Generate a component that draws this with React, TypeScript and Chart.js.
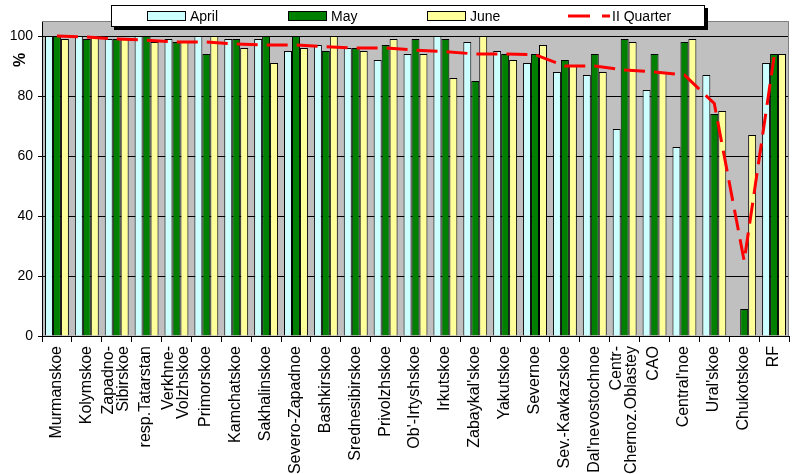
import React, { useEffect, useRef } from 'react';
import { Chart, registerables } from 'chart.js';

Chart.register(...registerables);

const FONT = "'Liberation Sans', Arial, sans-serif";

const categories: (string | string[])[] = [
  'Murmanskoe', 'Kolymskoe', ['Zapadno-', 'Sibirskoe'], 'resp.Tatarstan', ['Verkhne-', 'Volzhskoe'],
  'Primorskoe', 'Kamchatskoe', 'Sakhalinskoe', 'Severo-Zapadnoe', 'Bashkirskoe', 'Srednesibirskoe',
  'Privolzhskoe', "Ob'-Irtyshskoe", 'Irkutskoe', "Zabaykal'skoe", 'Yakutskoe', 'Severnoe',
  'Sev.-Kavkazskoe', "Dal'nevostochnoe", ['Centr-', 'Chernoz.Oblastey'], 'CAO', "Central'noe",
  "Ural'skoe", 'Chukotskoe', 'RF',
];

const april: (number | null)[] = [100, 100, 99, 100, 99, 100, 99, 99, 95, 97, 96, 92, 94, 100, 98, 95, 91, 88, 87, 69, 82, 63, 87, null, 91];
const may: number[] = [100, 99, 99, 100, 98, 94, 99, 100, 100, 95, 96, 97, 99, 99, 85, 94, 94, 92, 94, 99, 94, 98, 74, 9, 94];
const june: number[] = [99, 100, 99, 98, 98, 100, 96, 91, 96, 100, 95, 99, 94, 86, 100, 92, 97, 90, 88, 98, 88, 99, 75, 67, 94];
const quarter: number[] = [100, 99.7, 99, 98.6, 98, 98, 97.3, 97, 97, 96.4, 96, 96, 95.3, 94.8, 94, 94, 93.8, 90, 90, 88.7, 88, 87, 77.5, 25, 93];

const yTicks = [0, 20, 40, 60, 80, 100];

const seriesNames = ['April', 'May', 'June', 'II Quarter'];
const seriesColors = ['#CCFFFF', '#008000', '#FFFF99', '#FF0000'];

const decorPlugin = {
  id: 'decor',
  beforeDraw(chart: any) {
    const { ctx, chartArea: a } = chart;
    ctx.save();
    ctx.fillStyle = '#ffffff';
    ctx.fillRect(0, 0, chart.width, chart.height);
    ctx.fillStyle = '#C0C0C0';
    ctx.fillRect(a.left, a.top, a.right - a.left, a.bottom - a.top);
    ctx.restore();
  },
  afterDraw(chart: any) {
    const { ctx, chartArea: a } = chart;
    ctx.save();
    // top/right plot border
    ctx.strokeStyle = '#808080';
    ctx.lineWidth = 1;
    ctx.beginPath();
    ctx.moveTo(a.left, Math.round(a.top) + 0.5);
    ctx.lineTo(Math.round(a.right) - 0.5, Math.round(a.top) + 0.5);
    ctx.lineTo(Math.round(a.right) - 0.5, a.bottom);
    ctx.stroke();

    // x category labels (rotated, multi-line centred on category)
    const xs = chart.scales.x;
    ctx.font = `16px ${FONT}`;
    ctx.fillStyle = '#000';
    ctx.textAlign = 'right';
    ctx.textBaseline = 'middle';
    categories.forEach((lab, i) => {
      const lines = Array.isArray(lab) ? lab : [lab];
      const px = xs.getPixelForValue(i);
      lines.forEach((ln, j) => {
        const off = (j - (lines.length - 1) / 2) * 15;
        ctx.save();
        ctx.translate(px + off - 0.5, a.bottom + 10);
        ctx.rotate(-Math.PI / 2);
        ctx.fillText(ln, 0, 0);
        ctx.restore();
      });
    });

    // % title
    ctx.save();
    ctx.translate(21, 60);
    ctx.rotate(-Math.PI / 2);
    ctx.font = `bold 16px ${FONT}`;
    ctx.fillStyle = '#000';
    ctx.textAlign = 'center';
    ctx.textBaseline = 'middle';
    ctx.fillText('%', 0, 0);
    ctx.restore();

    // legend box
    const bx = 111, by = 5, bw = 594, bh = 22;
    ctx.fillStyle = '#000';
    ctx.fillRect(bx + 3, by + 3, bw, bh);
    ctx.fillStyle = '#fff';
    ctx.fillRect(bx, by, bw, bh);
    ctx.strokeStyle = '#000';
    ctx.lineWidth = 1;
    ctx.strokeRect(bx + 0.5, by + 0.5, bw - 1, bh - 1);

    const cy = 16;
    const swatchX = [147, 288, 427];
    ctx.font = `14px ${FONT}`;
    ctx.textBaseline = 'middle';
    ctx.textAlign = 'left';
    for (let i = 0; i < 3; i++) {
      ctx.fillStyle = seriesColors[i];
      ctx.fillRect(swatchX[i], cy - 4.5, 39, 9);
      ctx.strokeStyle = '#000';
      ctx.strokeRect(swatchX[i] + 0.5, cy - 4.5, 38, 9);
      ctx.fillStyle = '#000';
      ctx.fillText(seriesNames[i], swatchX[i] + 43, cy + 1);
    }
    ctx.strokeStyle = seriesColors[3];
    ctx.lineWidth = 3;
    ctx.beginPath();
    ctx.moveTo(568, cy);
    ctx.lineTo(590, cy);
    ctx.moveTo(602, cy);
    ctx.lineTo(610, cy);
    ctx.stroke();
    ctx.fillStyle = '#000';
    ctx.fillText(seriesNames[3], 612, cy + 1);
    ctx.restore();
  },
};

export default function App() {
  const ref = useRef<HTMLCanvasElement | null>(null);

  useEffect(() => {
    document.body.style.margin = '0';
    const canvas = ref.current;
    if (!canvas) return;
    Chart.defaults.font.family = FONT;
    const barCommon = {
      borderColor: '#000000',
      borderWidth: 1,
      categoryPercentage: 0.8,
      barPercentage: 1.0,
      order: 1,
    };
    const chart = new Chart(canvas, {
      type: 'bar',
      data: {
        labels: categories as any,
        datasets: [
          { ...barCommon, label: seriesNames[0], data: april, backgroundColor: seriesColors[0] } as any,
          { ...barCommon, label: seriesNames[1], data: may, backgroundColor: seriesColors[1] } as any,
          { ...barCommon, label: seriesNames[2], data: june, backgroundColor: seriesColors[2] } as any,
          {
            type: 'line',
            label: seriesNames[3],
            data: quarter,
            borderColor: seriesColors[3],
            borderWidth: 3,
            borderDash: [21, 9],
            pointRadius: 0,
            fill: false,
            tension: 0,
            order: 0,
          } as any,
        ],
      },
      options: {
        responsive: false,
        animation: false,
        layout: { padding: { top: 21, right: 4, left: 0, bottom: 0 } },
        plugins: { legend: { display: false }, tooltip: { enabled: false } },
        scales: {
          x: {
            grid: { display: true, drawOnChartArea: false, drawTicks: true, tickLength: 6, color: '#000', offset: true },
            border: { color: '#000', width: 1 },
            ticks: { display: false, autoSkip: false },
            afterFit: (s: any) => { s.height = 138; },
          },
          y: {
            min: 0,
            max: 105,
            afterBuildTicks: (s: any) => { s.ticks = yTicks.map((v) => ({ value: v })); },
            grid: { color: '#000', tickLength: 4, drawTicks: true },
            border: { color: '#000', width: 1 },
            ticks: { color: '#000', font: { family: FONT, size: 14 }, padding: 5 },
            afterFit: (s: any) => { s.width = 42; },
          },
        },
      } as any,
      plugins: [decorPlugin],
    });
    return () => chart.destroy();
  }, []);

  return (
    <div style={{ width: 793, height: 474 }}>
      <canvas ref={ref} width={793} height={474} style={{ display: 'block', width: 793, height: 474 }} />
    </div>
  );
}
